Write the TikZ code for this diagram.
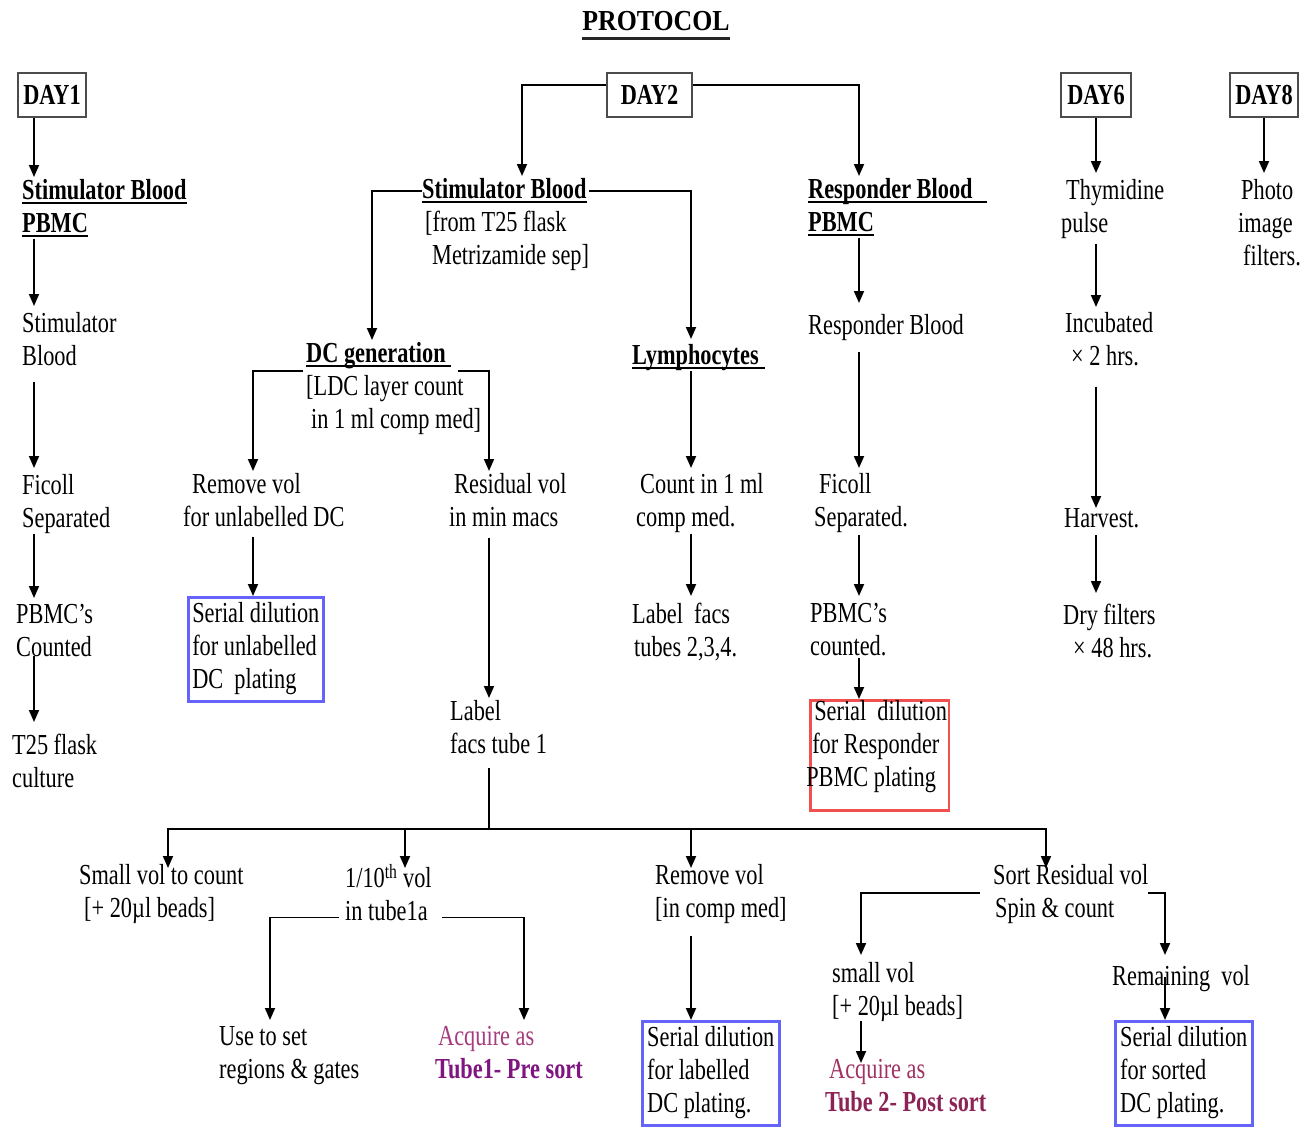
\documentclass[tikz,border=0pt]{standalone}
\usepackage{fontspec}
\setmainfont{Liberation Serif}[FakeStretch=0.77]
\newfontfamily\titlefont{Liberation Serif}[FakeStretch=0.89]
\usetikzlibrary{arrows.meta,calc}
\definecolor{acqA}{RGB}{165,60,125}
\definecolor{acqB}{RGB}{128,20,128}
\definecolor{acqC}{RGB}{160,50,100}
\definecolor{acqD}{RGB}{140,35,85}
\definecolor{boxblue}{RGB}{100,100,250}
\definecolor{boxred}{RGB}{240,80,80}
\newsavebox\ulbox
\newcommand\ulx[2][0pt]{\sbox\ulbox{#2}\rlap{\rule[-5pt]{\dimexpr\wd\ulbox+#1\relax}{2pt}}\usebox\ulbox}
\newcommand\ulT[1]{\sbox\ulbox{#1}\rlap{\color{black!85}\rule[-9.5pt]{\wd\ulbox}{2.6pt}}\usebox\ulbox}
\newcommand\fs{\fontsize{29}{33}\selectfont}
\newcommand\zs{\rule[-8pt]{0pt}{31pt}}
\tikzset{
  txt/.style={anchor=north west, inner sep=0pt, align=left, font=\fs, yshift=21pt,
              execute at begin node=\zs, execute at end node=\zs},
  bld/.style={txt, font=\fs\bfseries},
  bbox/.style={anchor=north west, draw=boxblue, line width=2.5pt, inner xsep=4pt, inner ysep=5pt,
               align=left, font=\fs, execute at begin node=\zs, execute at end node=\zs},
  rbox/.style={anchor=north west, draw=boxred, line width=2.5pt, inner xsep=2pt, inner ysep=0pt,
               align=left, font=\fs, execute at begin node=\zs, execute at end node=\zs},
  daybox/.style={draw=black!70, line width=2.4pt, inner sep=0pt, font=\fs\bfseries, minimum height=44pt},
  ln/.style={draw, line width=1.8pt},
  arr/.style={draw, line width=1.8pt, -{Triangle[length=12pt,width=10pt]}}
}
\begin{document}
\begin{tikzpicture}[x=1pt,y=-1pt]
\fill[white] (0,0) rectangle (1312,1130);
\path[use as bounding box] (0,0) rectangle (1312,1130);

% column x positions
\coordinate (X34) at (34,0);
\coordinate (X168) at (168,0);
\coordinate (X253) at (253,0);
\coordinate (X270) at (270,0);
\coordinate (X372) at (372,0);
\coordinate (X405) at (405,0);
\coordinate (X489) at (489,0);
\coordinate (X522) at (522,0);
\coordinate (X524) at (524,0);
\coordinate (X691) at (691,0);
\coordinate (X859) at (859,0);
\coordinate (X861) at (861,0);
\coordinate (X1046) at (1046,0);
\coordinate (X1096) at (1096,0);
\coordinate (X1165) at (1165,0);
\coordinate (X1264) at (1264,0);

% title
\node[font=\titlefont\fontsize{29}{33}\selectfont\bfseries, inner sep=0pt, anchor=base] (title) at (656,30) {\ulT{PROTOCOL}};

% day boxes
\node[daybox, minimum width=68pt] (day1) at (52,95) {DAY1};
\node[daybox, minimum width=85pt] (day2) at (649.5,95) {DAY2};
\node[daybox, minimum width=70pt] (day6) at (1096,95) {DAY6};
\node[daybox, minimum width=68pt] (day8) at (1264,95) {DAY8};

% ---- Day 1 column
\node[bld] (s1) at (22,200) {\ulx{Stimulator Blood}\\\ulx{PBMC}};
\node[txt] (s2) at (22,333) {Stimulator\\Blood};
\node[txt] (s3) at (22,495) {Ficoll\\Separated};
\node[txt] (s4) at (16,625) {PBMC’s\\Counted};
\node[txt] (s5) at (12,755) {T25 flask\\culture};
\draw[arr] (day1.south -| X34) -- ($(X34 |- s1.north)+(0,-2)$);
\draw[arr] ($(s1.south -| X34)+(0,-2)$) -- ($(X34 |- s2.north)+(0,-6)$);
\draw[arr] ($(s2.south -| X34)+(0,8)$) -- ($(X34 |- s3.north)+(0,-6)$);
\draw[arr] ($(s3.south -| X34)+(0,-2)$) -- ($(X34 |- s4.north)+(0,-6)$);
\draw[arr] ($(s4.south -| X34)+(0,-9)$) -- ($(X34 |- s5.north)+(0,-12)$);

% ---- Day 2: stimulator branch
\node[txt] (sb2) at (422,199) {\textbf{\ulx{Stimulator Blood}}\\\hspace*{3pt}{[}from T25 flask\\\hspace*{10pt}Metrizamide sep]};
\node[bld] (rb) at (808,199) {\ulx[14pt]{Responder Blood}\\\ulx{PBMC}};
\draw[arr] ([yshift=10pt]day2.west) -| ($(X522 |- sb2.north)+(0,-2)$);
\draw[arr] ([yshift=10pt]day2.east) -| ($(X859 |- rb.north)+(0,-2)$);

\node[txt] (dcg) at (306,363) {\textbf{\ulx[5pt]{DC generation}}\\{[}LDC layer count\\\hspace*{5pt}in 1 ml comp med]};
\node[bld] (lym) at (632,362) {\ulx[6pt]{Lymphocytes}};
\draw[arr] ([yshift=-13pt]sb2.north west) -| ($(X372 |- dcg.north)+(0,-2)$);
\draw[arr] ([yshift=-13pt]sb2.north east) -| ($(X691 |- lym.north)+(0,-2)$);

\node[txt] (rv) at (183,494) {\hspace*{9pt}Remove vol\\for unlabelled DC};
\node[txt] (resv) at (449,494) {\hspace*{5pt}Residual vol\\in min macs};
\draw[arr] ([xshift=-3pt,yshift=-29pt]dcg.north west) -| ($(X253 |- rv.north)+(0,-2)$);
\draw[arr] ([xshift=152pt,yshift=-29pt]dcg.north west) -| ($(X489 |- resv.north)+(0,-2)$);

\node[bbox, minimum width=135pt] (sd1) at (187,596) {Serial dilution\\for unlabelled\\DC\ \ plating};
\draw[arr] ($(rv.south -| X253)+(0,2)$) -- (X253 |- sd1.north);

\node[txt] (lab1) at (450,721) {Label\\facs tube 1};
\draw[arr] ($(resv.south -| X489)+(0,3)$) -- ($(X489 |- lab1.north)+(0,-2)$);

% lymphocytes
\node[txt] (cnt) at (636,494) {\hspace*{4pt}Count in 1 ml\\comp med.};
\node[txt] (lft) at (632,624) {Label\ \ facs\\\hspace*{2pt}tubes 2,3,4.};
\draw[arr] ($(lym.south -| X691)+(0,-1)$) -- ($(X691 |- cnt.north)+(0,-5)$);
\draw[arr] ($(cnt.south -| X691)+(0,-1)$) -- ($(X691 |- lft.north)+(0,-7)$);

% ---- responder column
\node[txt] (rb2) at (808,332) {Responder Blood};
\node[txt] (fic2) at (814,494) {\hspace*{5pt}Ficoll\\Separated.};
\node[txt] (pc2) at (810,624) {PBMC’s\\counted.};
\node[rbox] (sd4) at (809,699) {\hspace*{2pt}Serial\ \ dilution\\for Responder\\\hspace*{-6pt}PBMC plating\rule[-24pt]{0pt}{0pt}};
\draw[arr] ($(rb.south -| X859)+(0,-2)$) -- ($(X859 |- rb2.north)+(0,-8)$);
\draw[arr] ($(rb2.south -| X859)+(0,10)$) -- ($(X859 |- fic2.north)+(0,-5)$);
\draw[arr] (fic2.south -| X859) -- ($(X859 |- pc2.north)+(0,-7)$);
\draw[arr] ($(pc2.south -| X859)+(0,-6)$) -- (X859 |- sd4.north);

% ---- Day 6
\node[txt] (thy) at (1061,200) {\hspace*{5pt}Thymidine\\pulse};
\node[txt] (inc) at (1065,333) {Incubated\\\hspace*{6pt}× 2 hrs.};
\node[txt] (harv) at (1064,525) {Harvest.};
\node[txt] (dry) at (1063,625) {Dry filters\\\hspace*{10pt}× 48 hrs.};
\draw[arr] (day6.south -| X1096) -- ($(X1096 |- thy.north)+(0,-6)$);
\draw[arr] ($(thy.south -| X1096)+(0,3)$) -- ($(X1096 |- inc.north)+(0,-5)$);
\draw[arr] ($(inc.south -| X1096)+(0,13)$) -- ($(X1096 |- harv.north)+(0,4)$);
\draw[arr] (harv.south -| X1096) -- ($(X1096 |- dry.north)+(0,-11)$);

% ---- Day 8
\node[txt] (pho) at (1238,200) {\hspace*{3pt}Photo\\image\\\hspace*{5pt}filters.};
\draw[arr] (day8.south -| X1264) -- ($(X1264 |- pho.north)+(0,-6)$);

% ---- bottom tree
\node[txt] (smv) at (79,885) {Small vol to count\\\hspace*{5pt}{[}+ 20µl beads]};
\node[txt] (tenth) at (345,885) {1/10\textsuperscript{th} vol\\in tube1a};
\node[txt] (rem2) at (655,885) {Remove vol\\{[}in comp med]};
\node[txt] (sort) at (993,885) {Sort Residual vol\\\hspace*{2pt}Spin \& count};

\coordinate (bus) at (489,829);
\draw[ln] ($(lab1.south -| X489)+(0,6)$) -- (bus);
\draw[arr] (bus) -| ($(X168 |- smv.north)+(0,4)$);
\draw[arr] (bus) -| ($(X405 |- tenth.north)+(0,4)$);
\draw[arr] (bus) -| ($(X691 |- rem2.north)+(0,4)$);
\draw[arr] (bus) -| ($(X1046 |- sort.north)+(0,4)$);

\node[txt] (use) at (219,1047) {Use to set\\regions \& gates};
\node[txt] (acq1) at (435,1047) {\hspace*{3pt}\textcolor{acqA}{Acquire as}\\\textcolor{acqB}{\textbf{Tube1- Pre sort}}};
\draw[arr] ([xshift=-6pt,yshift=11pt]tenth.south west) -| ($(X270 |- use.north)+(0,-6)$);
\draw[arr] ([xshift=10pt,yshift=11pt]tenth.south east) -| ($(X524 |- acq1.north)+(0,-6)$);

\node[bbox, minimum width=137pt] (sd2) at (641,1020) {Serial dilution\\for labelled\\DC plating.};
\draw[arr] ($(rem2.south -| X691)+(0,10)$) -- (X691 |- sd2.north);

\node[txt] (smv2) at (832,983) {small vol\\{[}+ 20µl beads]};
\node[txt] (remv) at (1112,983) {Remaining\ \ vol};
\draw[arr] ([xshift=-13pt,yshift=-29pt]sort.north west) -| ($(X861 |- smv2.north)+(0,-7)$);
\draw[arr] ([yshift=-29pt]sort.north east) -| ($(X1165 |- remv.north)+(0,-7)$);

\node[txt] (acq2) at (825,1080) {\hspace*{4pt}\textcolor{acqC}{Acquire as}\\\textcolor{acqD}{\textbf{Tube 2- Post sort}}};
\draw[arr] ($(smv2.south -| X861)+(0,-3)$) -- ($(X861 |- acq2.north)+(0,4)$);

\node[bbox, minimum width=137pt] (sd3) at (1114,1020) {Serial dilution\\for sorted\\DC plating.};
\draw[arr] ($(remv.south -| X1165)+(0,-16)$) -- (X1165 |- sd3.north);
\end{tikzpicture}
\end{document}
